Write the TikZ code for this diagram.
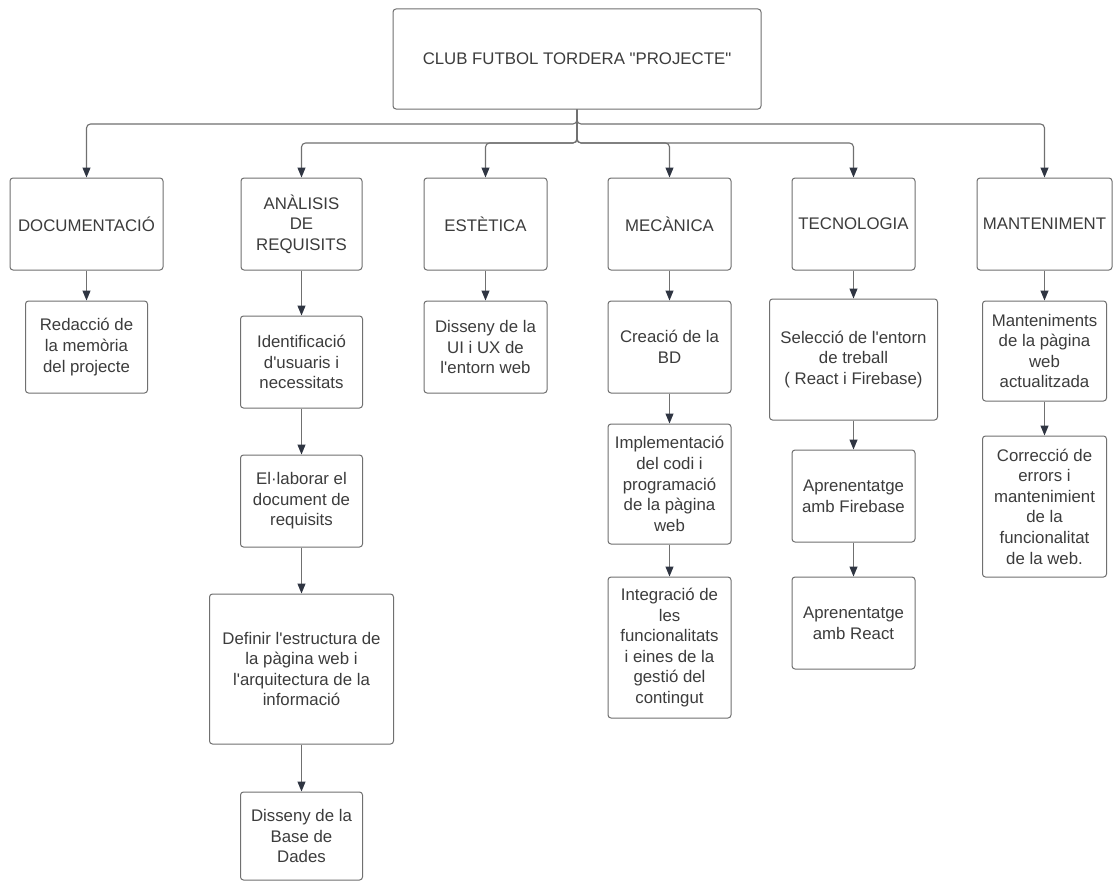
\documentclass[tikz,border=0pt]{standalone}
\usepackage{fontspec}
\setmainfont{Liberation Sans}[Ligatures=TeXOff]
\usetikzlibrary{arrows.meta}
\definecolor{edge}{HTML}{707070}
\definecolor{ink}{HTML}{3C3C3C}
\definecolor{tip}{HTML}{2F3542}
\begin{document}
\begin{tikzpicture}[x=1pt,y=-1pt,
  box/.style={draw=edge, line width=1pt, rounded corners=3pt, fill=white,
    align=center, inner sep=0pt, text=ink,
    font=\fontsize{16.8}{20.6}\selectfont},
  sz/.style 2 args={minimum width=#1pt, minimum height=#2pt},
  conn/.style={draw=edge, line width=1.1pt, rounded corners=4pt,
    -{Triangle[width=8pt,length=10pt,color=tip]}}]
\useasboundingbox[fill=white] (0,0) rectangle (1113,883);

% root
\node[box, sz={368}{100}] (top) at (577,59) {CLUB FUTBOL TORDERA "PROJECTE"};

% first level
\node[box, sz={153}{92}] (doc) at (86.5,224) {DOCUMENTACIÓ};
\node[box, sz={121}{92}] (ana) at (301.5,224) {ANÀLISIS\\DE\\REQUISITS};
\node[box, sz={123}{92}] (est) at (485.5,224) {ESTÈTICA};
\node[box, sz={123}{92}] (mec) at (669.5,224) {MECÀNICA};
\node[box, sz={123}{92}] (tec) at (853.5,224) {TECNOLOGIA};
\node[box, sz={135}{92}] (man) at (1044.5,224) {MANTENIMENT};

% documentació
\node[box, sz={122}{92}] (red) at (86.5,347) {Redacció de\\la memòria\\del projecte};

% anàlisis de requisits
\node[box, sz={122}{92}] (ide) at (301.5,362) {Identificació\\d'usuaris i\\necessitats};
\node[box, sz={122}{92}] (ela) at (301.5,501) {El·laborar el\\document de\\requisits};
\node[box, sz={184}{150}] (def) at (301.5,669) {Definir l'estructura de\\la pàgina web i\\l'arquitectura de la\\informació};
\node[box, sz={122}{88}] (dbd) at (301.5,836) {Disseny de la\\Base de\\Dades};

% estètica
\node[box, sz={123}{92}] (dui) at (485.5,347) {Disseny de la\\UI i UX de\\l'entorn web};

% mecànica
\node[box, sz={123}{92}] (cre) at (669.5,347) {Creació de la\\BD};
\node[box, sz={123}{120}] (imp) at (669.5,484) {Implementació\\del codi i\\programació\\de la pàgina\\web};
\node[box, sz={123}{141}] (int) at (669.5,647.5) {Integració de\\les\\funcionalitats\\i eines de la\\gestió del\\contingut};

% tecnologia
\node[box, sz={168}{121}] (sel) at (853.5,359.5) {Selecció de l'entorn\\de treball\\( React i Firebase)};
\node[box, sz={123}{92}] (fir) at (853.5,496) {Aprenentatge\\amb Firebase};
\node[box, sz={123}{92}] (rea) at (853.5,623) {Aprenentatge\\amb React};

% manteniment
\node[box, sz={124}{100}] (mnt) at (1044.5,351) {Manteniments\\de la pàgina\\web\\actualitzada};
\node[box, sz={124}{141}] (cor) at (1044.5,506.5) {Correcció de\\errors i\\mantenimient\\de la\\funcionalitat\\de la web.};

% branching rails under the root
\coordinate (hi) at (577,124);
\coordinate (lo) at (577,143);

\draw[conn] (top.south) -- (hi) -| (doc.north);
\draw[conn] (top.south) -- (hi) -| (man.north);
\draw[conn] (top.south) -- (lo) -| (ana.north);
\draw[conn] (top.south) -- (lo) -| (est.north);
\draw[conn] (top.south) -- (lo) -| (mec.north);
\draw[conn] (top.south) -- (lo) -| (tec.north);

% vertical chains
\draw[conn] (doc.south) -- (red.north);
\draw[conn] (ana.south) -- (ide.north);
\draw[conn] (ide.south) -- (ela.north);
\draw[conn] (ela.south) -- (def.north);
\draw[conn] (def.south) -- (dbd.north);
\draw[conn] (est.south) -- (dui.north);
\draw[conn] (mec.south) -- (cre.north);
\draw[conn] (cre.south) -- (imp.north);
\draw[conn] (imp.south) -- (int.north);
\draw[conn] (tec.south) -- (sel.north);
\draw[conn] (sel.south) -- (fir.north);
\draw[conn] (fir.south) -- (rea.north);
\draw[conn] (man.south) -- (mnt.north);
\draw[conn] (mnt.south) -- (cor.north);
\end{tikzpicture}
\end{document}
